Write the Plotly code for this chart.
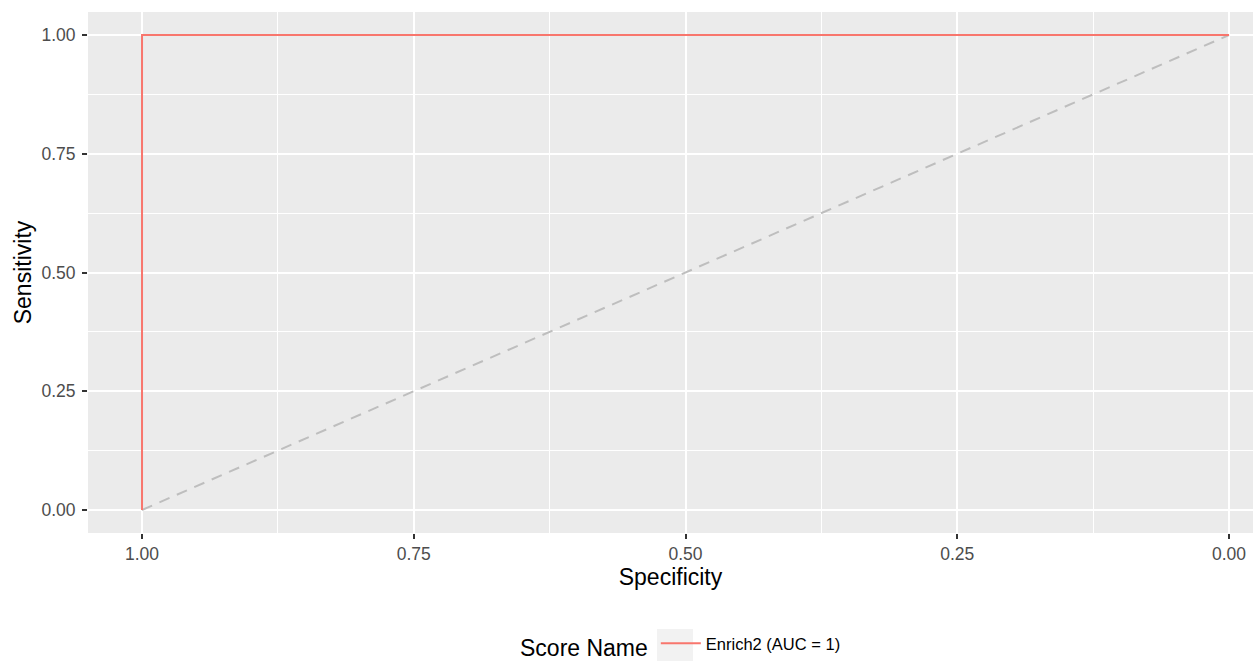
import plotly.graph_objects as go

# ROC curve data
specificity = [1.0, 1.0, 0.0]
sensitivity = [0.0, 1.0, 1.0]
ref_x = [1.0, 0.0]
ref_y = [0.0, 1.0]
series_name = "Enrich2 (AUC = 1)"
legend_title = "Score Name"
tick_vals = [0.0, 0.25, 0.5, 0.75, 1.0]
tick_text = ["0.00", "0.25", "0.50", "0.75", "1.00"]
minor_vals = [0.125, 0.375, 0.625, 0.875]

W, H = 1253, 661
ML, MR, MT, MB = 88, 0, 12, 128
pw = W - ML - MR
ph = H - MT - MB

FONT = "Liberation Sans"

fig = go.Figure()
fig.add_trace(go.Scatter(x=ref_x, y=ref_y, mode="lines",
                         line=dict(color="#BEBEBE", width=2, dash="11px,8px"),
                         showlegend=False, hoverinfo="skip"))
fig.add_trace(go.Scatter(x=specificity, y=sensitivity, mode="lines",
                         line=dict(color="#F8766D", width=2),
                         name=series_name))

axis_common = dict(
    showgrid=True, gridcolor="white", gridwidth=2,
    zeroline=False, showline=False, automargin=False,
    ticks="outside", ticklen=5, tickwidth=1.5, tickcolor="#333333",
    tickfont=dict(family=FONT, size=17.5, color="#4D4D4D"),
    tickvals=tick_vals, ticktext=tick_text,
    minor=dict(showgrid=True, gridcolor="white", gridwidth=1,
               tickvals=minor_vals, ticks=""),
)

fig.update_xaxes(**axis_common, range=[1.0497, -0.0221], ticklabelstandoff=0,
                 title=dict(text="Specificity", standoff=5,
                            font=dict(family=FONT, size=23, color="black")))
fig.update_yaxes(**axis_common, range=[-0.0485, 1.0485], ticklabelstandoff=3,
                 title=dict(text="Sensitivity", standoff=3,
                            font=dict(family=FONT, size=23, color="black")))

# grey legend key background
fig.add_shape(type="rect", xref="paper", yref="paper",
              x0=(657 - ML) / pw, x1=(693 - ML) / pw,
              y0=(MT + ph - 661) / ph, y1=(MT + ph - 629) / ph,
              fillcolor="#F2F2F2", line=dict(width=0), layer="below")

fig.update_layout(
    width=W, height=H,
    margin=dict(l=ML, r=MR, t=MT, b=MB, autoexpand=False),
    plot_bgcolor="#EBEBEB", paper_bgcolor="white",
    font=dict(family=FONT),
    legend=dict(orientation="h", x=(518 - ML) / pw, xanchor="left",
                y=(MT + ph - 666) / ph, yanchor="bottom",
                title=dict(text=legend_title, side="left",
                           font=dict(family=FONT, size=23, color="black")),
                font=dict(family=FONT, size=16.5, color="black"),
                itemwidth=40,
                bgcolor="rgba(0,0,0,0)"),
)

fig.write_html("out.html", config={"displayModeBar": False},
               post_script="document.body.style.margin='0';")
